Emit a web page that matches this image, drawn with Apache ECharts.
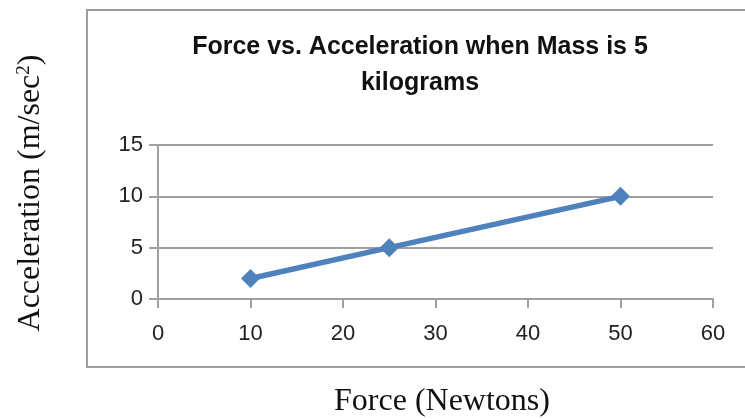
<!DOCTYPE html>
<html>
<head>
<meta charset="utf-8">
<script src="https://cdn.jsdelivr.net/npm/echarts@6/dist/echarts.min.js"></script>
<style>
html,body{margin:0;padding:0;background:#fff;}
#chart{width:745px;height:419px;}
</style>
</head>
<body>
<div id="chart"></div>
<script>
const forceValues = [10, 25, 50];
const accelerationValues = [2, 5, 10];
const titleText = 'Force vs. Acceleration when Mass is 5\nkilograms';
const xAxisTitle = 'Force (Newtons)';
const yAxisTitle = 'Acceleration (m/sec';

const chart = echarts.init(document.getElementById('chart'), null, {renderer: 'canvas'});
const gray = '#a0a0a0';
const tickFont = 'Liberation Sans, Arial, sans-serif';
const serif = 'Liberation Serif, Times New Roman, serif';

chart.setOption({
  backgroundColor: '#fff',
  animation: false,
  grid: {left: 158, right: 32, top: 145, bottom: 120},
  xAxis: {
    type: 'value', min: 0, max: 60, interval: 10,
    axisLine: {show: true, lineStyle: {color: gray, width: 2}},
    axisTick: {show: true, inside: false, length: 9, lineStyle: {color: gray, width: 2}},
    axisLabel: {color: '#222', fontFamily: tickFont, fontSize: 22, margin: 24},
    splitLine: {show: false}
  },
  yAxis: {
    type: 'value', min: 0, max: 15, interval: 5,
    axisLine: {show: true, lineStyle: {color: gray, width: 2}},
    axisTick: {show: true, inside: false, length: 9, lineStyle: {color: gray, width: 2}},
    axisLabel: {color: '#222', fontFamily: tickFont, fontSize: 22, margin: 15},
    splitLine: {show: true, lineStyle: {color: gray, width: 2}}
  },
  series: [{
    type: 'line',
    data: forceValues.map((f, i) => [f, accelerationValues[i]]),
    lineStyle: {color: '#4f81bd', width: 5.5},
    itemStyle: {color: '#4f81bd'},
    symbol: 'diamond',
    symbolSize: 19,
    showSymbol: true
  }],
  graphic: [
    {type: 'rect', shape: {x: 87, y: 10, width: 680, height: 357}, style: {fill: 'none', stroke: '#9c9c9c', lineWidth: 2}, z: -1},
    {type: 'text', x: 420, y: 65, style: {text: titleText, font: 'bold 25px ' + tickFont, fill: '#111', textAlign: 'center', textVerticalAlign: 'middle', lineHeight: 36}},
    {type: 'text', x: 442, y: 402, style: {text: xAxisTitle, font: '32px ' + serif, fill: '#111', textAlign: 'center', textVerticalAlign: 'middle'}},
    {type: 'text', x: 31, y: 193, rotation: Math.PI / 2,
      style: {text: '{a|' + yAxisTitle + '}{s|2}{a|)}', textAlign: 'center', textVerticalAlign: 'middle', fill: '#111',
        rich: {a: {fontFamily: serif, fontSize: 32, fill: '#111', color: '#111'}, s: {fontFamily: serif, fontSize: 19, verticalAlign: 'top', color: '#111', fill: '#111', padding: [0, 0, 13, 0]}}}}
  ]
});
</script>
</body>
</html>
